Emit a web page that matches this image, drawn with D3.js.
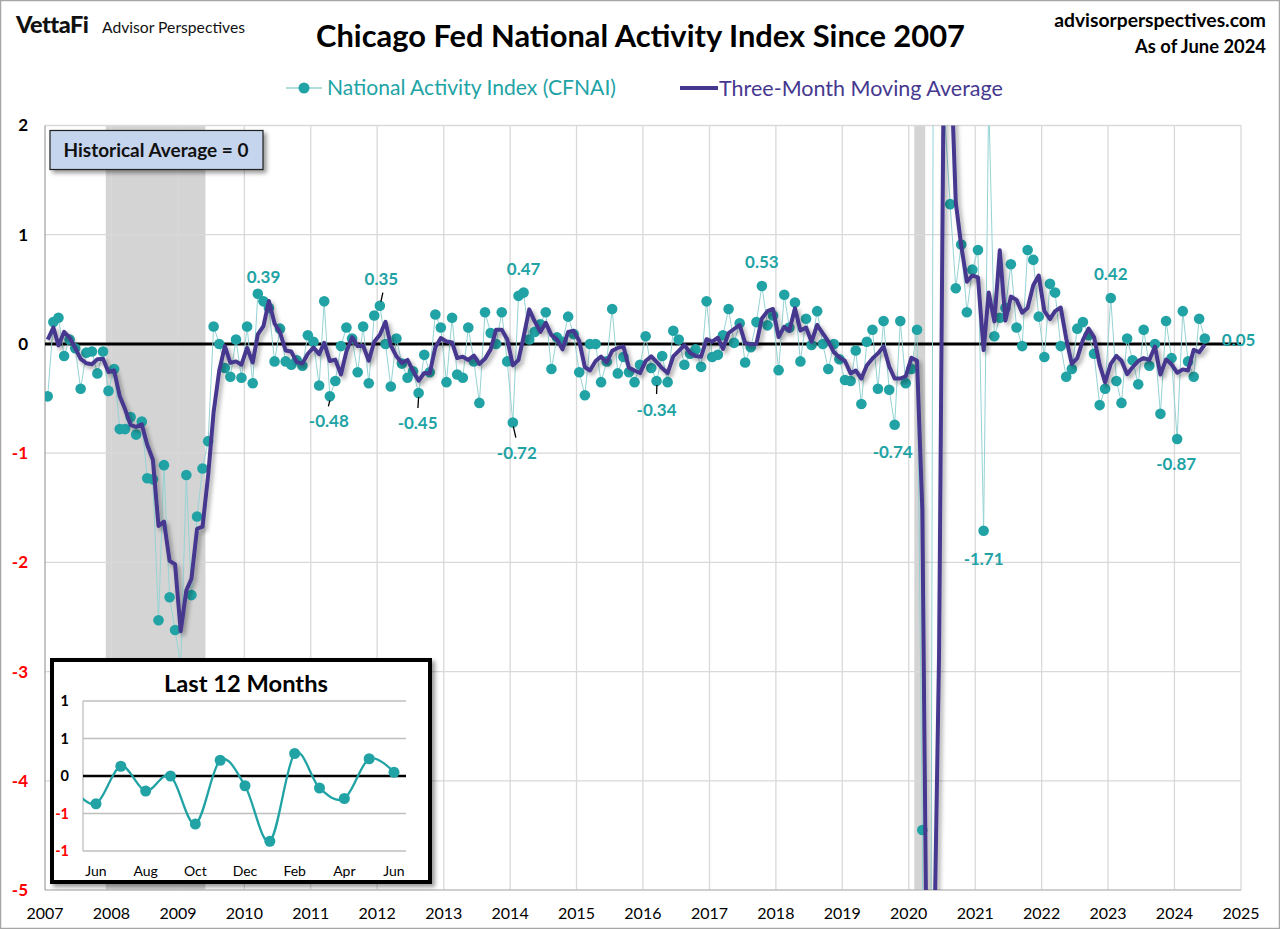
<!DOCTYPE html>
<html><head><meta charset="utf-8">
<script src="https://cdn.jsdelivr.net/npm/d3@7"></script>
<style>
html,body{margin:0;padding:0;background:#fff;}
svg{display:block;}
text{font-family:Lato,"Open Sans",sans-serif;}
</style></head><body>
<svg id="chart" width="1280" height="929"></svg>
<script>
// ---------------- DATA ----------------
const cfnaiPrior = [-0.13, 0.73]; // Nov, Dec 2006 (only used for the 3-month average)
const cfnai2007 = [-0.48, 0.20, 0.24, -0.11, 0.04, -0.04, -0.41, -0.08, -0.07, -0.27, -0.07, -0.43];
const cfnai2008 = [-0.23, -0.78, -0.78, -0.67, -0.83, -0.71, -1.23, -1.24, -2.53, -1.11, -2.32, -2.62];
const cfnai2009 = [-2.95, -1.20, -2.30, -1.58, -1.14, -0.89, 0.16, 0.00, -0.22, -0.30, 0.04, -0.31];
const cfnai2010 = [0.16, -0.36, 0.46, 0.39, 0.33, -0.16, 0.14, -0.16, -0.19, -0.15, -0.20, 0.08];
const cfnai2011 = [0.02, -0.38, 0.39, -0.48, -0.34, -0.02, 0.15, 0.05, -0.26, 0.16, -0.36, 0.26];
const cfnai2012 = [0.35, 0.00, -0.39, 0.05, -0.18, -0.31, -0.25, -0.45, -0.10, -0.26, 0.27, 0.15];
const cfnai2013 = [-0.35, 0.24, -0.28, -0.31, 0.15, -0.16, -0.54, 0.29, 0.10, 0.00, 0.29, -0.16];
const cfnai2014 = [-0.72, 0.44, 0.47, 0.04, 0.11, 0.18, 0.29, -0.23, 0.06, 0.02, 0.25, 0.09];
const cfnai2015 = [-0.26, -0.47, 0.00, 0.00, -0.35, -0.16, 0.32, -0.27, -0.12, -0.26, -0.35, -0.19];
const cfnai2016 = [0.07, -0.22, -0.34, -0.11, -0.35, 0.12, 0.04, -0.19, -0.09, -0.05, -0.21, 0.39];
const cfnai2017 = [-0.12, -0.10, 0.08, 0.32, 0.01, 0.19, -0.17, -0.03, 0.20, 0.53, 0.17, 0.26];
const cfnai2018 = [-0.24, 0.45, 0.15, 0.38, -0.16, 0.23, -0.01, 0.30, 0.00, -0.23, 0.00, -0.14];
const cfnai2019 = [-0.33, -0.34, -0.06, -0.55, 0.02, 0.13, -0.41, 0.21, -0.42, -0.74, 0.21, -0.36];
const cfnai2020 = [-0.23, 0.13, -4.45, -16.7, 3.20, 4.90, 2.10, 1.28, 0.51, 0.91, 0.29, 0.68];
const cfnai2021 = [0.86, -1.71, 2.26, 0.07, 0.24, 0.33, 0.73, 0.15, -0.02, 0.86, 0.77, 0.25];
const cfnai2022 = [-0.12, 0.55, 0.47, -0.02, -0.30, -0.23, 0.14, 0.20, 0.08, -0.09, -0.56, -0.41];
const cfnai2023 = [0.42, -0.34, -0.54, 0.05, -0.15, -0.37, 0.13, -0.20, 0.00, -0.64, 0.21, -0.13];
const cfnai2024 = [-0.87, 0.30, -0.16, -0.30, 0.23, 0.05];

const startYear = 2007;
const xTickYears = d3.range(2007, 2026);
const yTicks = [2, 1, 0, -1, -2, -3, -4, -5];
const recessions = [["2007-12-01", "2009-06-01"], ["2020-02-01", "2020-04-01"]];
const labelledMonths = ["2010-04", "2011-04", "2012-01", "2012-08", "2014-01", "2014-03",
                        "2016-03", "2017-10", "2019-10", "2021-02", "2023-01", "2024-01", "2024-06"];
const insetMonthLabels = ["Jun", "Aug", "Oct", "Dec", "Feb", "Apr", "Jun"];
const insetTicks = [1, 0.5, 0, -0.5, -1];
const insetTickLabels = ["1", "1", "0", "-1", "-1"];

// ---------------- LAYOUT / STYLE ----------------
const TEAL = "#21a3a5", TEAL_LINE = "#96d3d4", PURPLE = "#46388f", RED = "#ff0000";
const P = {left: 45, right: 1241, top: 125.5, bottom: 890};
// label offsets relative to the labelled point: [dx, dy, anchor, leader]
const labelLayout = [
  [0, -24, "middle", null],
  [-1, 25, "middle", [0, 4, -1.5, 10]],
  [1.5, -27, "middle", [3, -13, 1, -4]],
  [-1, 30, "middle", [0, 4, -0.7, 15]],
  [4, 30, "middle", [0.5, 4, 3, 15]],
  [0, -24, "middle", null],
  [0, 29, "middle", [0.4, 4, 0, 13]],
  [0, -24, "middle", null],
  [-2, 27, "middle", null],
  [0, 28, "middle", null],
  [0, -24, "middle", null],
  [-1, 25, "middle", null],
  [17, 2, "start", null]
];

const cfnai = [cfnai2007, cfnai2008, cfnai2009, cfnai2010, cfnai2011, cfnai2012, cfnai2013, cfnai2014,
  cfnai2015, cfnai2016, cfnai2017, cfnai2018, cfnai2019, cfnai2020, cfnai2021, cfnai2022, cfnai2023, cfnai2024].flat();
const dates = cfnai.map((_, i) => new Date(startYear, i, 16));
const ext = cfnaiPrior.concat(cfnai);
const ma = cfnai.map((_, i) => d3.mean(ext.slice(i, i + 3)));
const points = cfnai.map((v, i) => ({date: dates[i], v}));
const maPoints = ma.map((v, i) => ({date: dates[i], v}));

const svg = d3.select("#chart");
const x = d3.scaleTime().domain([new Date(2007, 0, 1), new Date(2025, 0, 1)]).range([P.left, P.right]);
const y = d3.scaleLinear().domain([-5, 2]).range([P.bottom, P.top]);

const defs = svg.append("defs");
defs.append("clipPath").attr("id", "plotClip").append("rect")
  .attr("x", P.left).attr("y", P.top).attr("width", P.right - P.left).attr("height", P.bottom - P.top);
const f1 = defs.append("filter").attr("id", "lineShadow").attr("filterUnits", "userSpaceOnUse")
  .attr("x", 0).attr("y", 0).attr("width", 1280).attr("height", 929);
f1.append("feDropShadow").attr("dx", 2.5).attr("dy", 3).attr("stdDeviation", 2)
  .attr("flood-color", "#000").attr("flood-opacity", 0.35);
const f2 = defs.append("filter").attr("id", "boxShadow").attr("x", "-10%").attr("y", "-10%").attr("width", "125%").attr("height", "130%");
f2.append("feDropShadow").attr("dx", 3).attr("dy", 3).attr("stdDeviation", 2)
  .attr("flood-color", "#000").attr("flood-opacity", 0.4);

function fit(sel, w) {
  const cur = sel.node().getComputedTextLength();
  const fs = parseFloat(sel.attr("font-size"));
  sel.attr("font-size", (fs * w / cur).toFixed(2));
  return sel;
}

// background + border
svg.append("rect").attr("x", 0.5).attr("y", 0.5).attr("width", 1279).attr("height", 928)
  .attr("fill", "#fff").attr("stroke", "#a6a6a6").attr("stroke-width", 1.5);

// recession bands
svg.append("g").selectAll("rect").data(recessions).join("rect")
  .attr("x", d => x(new Date(d[0]))).attr("width", d => x(new Date(d[1])) - x(new Date(d[0])))
  .attr("y", P.top).attr("height", P.bottom - P.top).attr("fill", "#d4d4d4");

// gridlines
const grid = svg.append("g").attr("stroke", "#d9d9d9").attr("stroke-width", 1.3);
grid.selectAll(".h").data(yTicks.filter(t => t !== 0 && t !== -5)).join("line")
  .attr("x1", P.left).attr("x2", P.right).attr("y1", d => y(d)).attr("y2", d => y(d));
grid.selectAll(".v").data(xTickYears.slice(1)).join("line")
  .attr("x1", d => x(new Date(d, 0, 1))).attr("x2", d => x(new Date(d, 0, 1)))
  .attr("y1", P.top).attr("y2", P.bottom);
svg.append("line").attr("x1", P.left).attr("x2", P.right).attr("y1", y(-5)).attr("y2", y(-5))
  .attr("stroke", "#bfbfbf").attr("stroke-width", 1.3);
svg.append("line").attr("x1", P.left).attr("x2", P.left).attr("y1", P.top).attr("y2", P.bottom)
  .attr("stroke", "#a6a6a6").attr("stroke-width", 1.3);
svg.append("line").attr("x1", P.left).attr("x2", P.right).attr("y1", y(0)).attr("y2", y(0))
  .attr("stroke", "#000").attr("stroke-width", 3);

// data
const plot = svg.append("g").attr("clip-path", "url(#plotClip)");
const line = d3.line().x(d => x(d.date)).y(d => y(d.v));
plot.append("path").datum(points).attr("d", line).attr("fill", "none")
  .attr("stroke", TEAL_LINE).attr("stroke-width", 1);
plot.append("g").selectAll("circle").data(points).join("circle")
  .attr("cx", d => x(d.date)).attr("cy", d => y(d.v)).attr("r", 5.3).attr("fill", TEAL);
plot.append("path").datum(maPoints).attr("d", line).attr("fill", "none")
  .attr("stroke", PURPLE).attr("stroke-width", 4).attr("stroke-linejoin", "round")
  .attr("filter", "url(#lineShadow)");

// point labels
const lab = svg.append("g");
labelledMonths.forEach((m, k) => {
  const [yy, mm] = m.split("-").map(Number);
  const idx = (yy - startYear) * 12 + (mm - 1);
  const px = x(dates[idx]), py = y(cfnai[idx]);
  const [dx, dy, anchor, leader] = labelLayout[k];
  if (leader) {
    lab.append("line").attr("x1", px + leader[0]).attr("y1", py + leader[1])
      .attr("x2", px + leader[2]).attr("y2", py + leader[3]).attr("stroke", "#000").attr("stroke-width", 1.3);
  }
  lab.append("text").attr("x", px + dx).attr("y", py + dy).attr("dy", "0.35em")
    .attr("text-anchor", anchor).attr("font-size", 17).attr("font-weight", 700)
    .attr("fill", TEAL).text(cfnai[idx].toFixed(2));
});

// y tick labels
svg.append("g").selectAll("text").data(yTicks).join("text")
  .attr("x", 28).attr("y", d => y(d)).attr("dy", "0.35em").attr("text-anchor", "end")
  .attr("font-size", 17).attr("font-weight", 700).attr("fill", d => d < 0 ? RED : "#000")
  .text(d => d);
// x tick labels
svg.append("g").selectAll("text").data(xTickYears).join("text")
  .attr("x", d => x(new Date(d, 0, 1))).attr("y", 919).attr("text-anchor", "middle")
  .attr("font-size", 16).attr("fill", "#000").text(d => d);

// Historical average box
svg.append("rect").attr("x", 50).attr("y", 130.5).attr("width", 213).attr("height", 39)
  .attr("fill", "#c6d5ee").attr("stroke", "#222").attr("stroke-width", 1.2).attr("filter", "url(#boxShadow)");
fit(svg.append("text").attr("x", 156).attr("y", 150).attr("dy", "0.35em").attr("text-anchor", "middle")
  .attr("font-size", 17).attr("font-weight", 700).attr("fill", "#111").text("Historical Average = 0"), 185);

// ---------------- INSET ----------------
const inset = svg.append("g");
inset.append("rect").attr("x", 52).attr("y", 660).attr("width", 378).attr("height", 222)
  .attr("fill", "#fff").attr("stroke", "#000").attr("stroke-width", 4).attr("filter", "url(#boxShadow)");
fit(inset.append("text").attr("x", 246).attr("y", 692).attr("text-anchor", "middle")
  .attr("font-size", 22).attr("font-weight", 700).attr("fill", "#000").text("Last 12 Months"), 164);
const IP = {left: 83, right: 406};
const xi = d3.scaleLinear().domain([0, 12]).range([96, 394]);
const yi = d3.scaleLinear().domain([-1, 1]).range([851, 701]);
defs.append("clipPath").attr("id", "insetClip").append("rect")
  .attr("x", IP.left).attr("y", 690).attr("width", IP.right - IP.left).attr("height", 175);
inset.append("g").selectAll("line").data(insetTicks.filter(t => t !== 0)).join("line")
  .attr("x1", IP.left).attr("x2", IP.right).attr("y1", d => yi(d)).attr("y2", d => yi(d))
  .attr("stroke", "#bfbfbf").attr("stroke-width", 1.3);
inset.append("line").attr("x1", IP.left).attr("x2", IP.left).attr("y1", yi(1)).attr("y2", yi(-1))
  .attr("stroke", "#bfbfbf").attr("stroke-width", 1.3);
inset.append("line").attr("x1", IP.left).attr("x2", IP.right).attr("y1", yi(0)).attr("y2", yi(0))
  .attr("stroke", "#000").attr("stroke-width", 2.5);
const insetVals = cfnai.slice(-14).map((v, i) => ({i: i - 1, v}));
const ig = inset.append("g").attr("clip-path", "url(#insetClip)");
ig.append("path").datum(insetVals)
  .attr("d", d3.line().x(d => xi(d.i)).y(d => yi(d.v)).curve(d3.curveCardinal.tension(0)))
  .attr("fill", "none").attr("stroke", TEAL).attr("stroke-width", 2.3);
ig.append("g").selectAll("circle").data(insetVals.filter(d => d.i >= 0)).join("circle")
  .attr("cx", d => xi(d.i)).attr("cy", d => yi(d.v)).attr("r", 5.5).attr("fill", TEAL);
inset.append("g").selectAll("text").data(insetTicks).join("text")
  .attr("x", 69).attr("y", d => yi(d)).attr("dy", "0.35em").attr("text-anchor", "end")
  .attr("font-size", 14.5).attr("font-weight", 700).attr("fill", d => d < 0 ? RED : "#000")
  .text((d, i) => insetTickLabels[i]);
inset.append("g").selectAll("text").data(insetMonthLabels).join("text")
  .attr("x", (d, i) => xi(i * 2)).attr("y", 876).attr("text-anchor", "middle")
  .attr("font-size", 14).attr("fill", "#000").text(d => d);

// ---------------- HEADER ----------------
fit(svg.append("text").attr("x", 640.5).attr("y", 47).attr("text-anchor", "middle")
  .attr("font-size", 28).attr("font-weight", 700).attr("fill", "#000")
  .text("Chicago Fed National Activity Index Since 2007"), 649);
fit(svg.append("text").attr("x", 16).attr("y", 33).attr("font-size", 17).attr("font-weight", 900)
  .attr("fill", "#111").attr("letter-spacing", -0.5).text("VettaFi"), 71);
fit(svg.append("text").attr("x", 102).attr("y", 33).attr("font-size", 14).attr("fill", "#111")
  .text("Advisor Perspectives"), 143);
fit(svg.append("text").attr("x", 1266).attr("y", 27).attr("text-anchor", "end").attr("font-size", 18)
  .attr("font-weight", 700).attr("fill", "#000").text("advisorperspectives.com"), 212);
fit(svg.append("text").attr("x", 1266).attr("y", 53).attr("text-anchor", "end").attr("font-size", 18)
  .attr("font-weight", 700).attr("fill", "#000").text("As of June 2024"), 131);

// legend
svg.append("line").attr("x1", 286).attr("x2", 322).attr("y1", 88).attr("y2", 88)
  .attr("stroke", TEAL_LINE).attr("stroke-width", 1.5);
svg.append("circle").attr("cx", 304).attr("cy", 88).attr("r", 5.5).attr("fill", TEAL);
fit(svg.append("text").attr("x", 327).attr("y", 88).attr("dy", "0.35em").attr("font-size", 19)
  .attr("fill", TEAL).text("National Activity Index (CFNAI)"), 289);
svg.append("line").attr("x1", 680).attr("x2", 718).attr("y1", 88).attr("y2", 88)
  .attr("stroke", PURPLE).attr("stroke-width", 4);
fit(svg.append("text").attr("x", 719).attr("y", 88).attr("dy", "0.35em").attr("font-size", 19)
  .attr("fill", PURPLE).text("Three-Month Moving Average"), 284);
</script></body></html>
